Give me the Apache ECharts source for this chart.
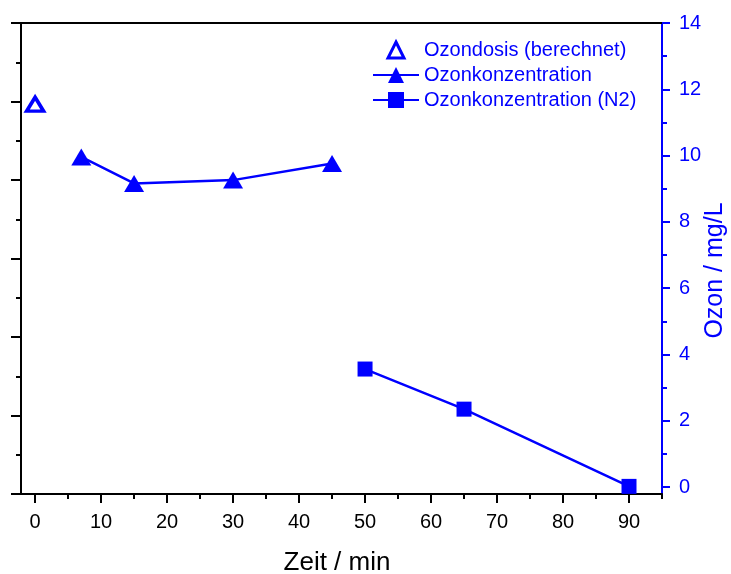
<!DOCTYPE html>
<html>
<head>
<meta charset="utf-8">
<script src="https://cdn.jsdelivr.net/npm/echarts@6/dist/echarts.min.js"></script>
<style>html,body{margin:0;padding:0;background:#fff}#c{width:731px;height:574px}</style>
</head>
<body>
<div id="c"></div>
<script>
const seriesNames = ['Ozondosis (berechnet)', 'Ozonkonzentration', 'Ozonkonzentration (N2)'];
const doseX = [0];
const doseY = [11.55];
const concX = [7, 15, 30, 45];
const concY = [9.96, 9.16, 9.26, 9.76];
const n2X = [50, 65, 90];
const n2Y = [3.56, 2.35, 0.02];
const xMajorTicks = [0, 10, 20, 30, 40, 50, 60, 70, 80, 90];
const xMinorTicks = [5, 15, 25, 35, 45, 55, 65, 75, 85, 95];
const yMajorTicks = [0, 2, 4, 6, 8, 10, 12, 14];
const yMinorTicks = [1, 3, 5, 7, 9, 11, 13];
const xTitle = 'Zeit / min';
const yTitle = 'Ozon / mg/L';

const BLUE = '#0000ff';
const FONT = 'Liberation Sans, Arial, sans-serif';
const pairs = (xs, ys) => xs.map((x, i) => [x, ys[i]]);

const chart = echarts.init(document.getElementById('c'), null, {renderer: 'canvas'});
const xRange = {min: -3.5, max: 95};
const yRange = {min: -0.21, max: 14};

chart.setOption({
  animation: false,
  backgroundColor: '#fff',
  textStyle: {fontFamily: FONT},
  grid: {left: 12, right: 69, top: 23, bottom: 80, containLabel: false, outerBoundsMode: 'none'},
  legend: {
    orient: 'vertical',
    left: 372,
    top: 40,
    padding: 0,
    itemWidth: 46,
    itemHeight: 20,
    itemGap: 5,
    textStyle: {color: BLUE, fontSize: 20, fontFamily: FONT},
    data: [
      {name: seriesNames[0], itemStyle: {color: '#fff', borderColor: BLUE, borderWidth: 3}},
      {name: seriesNames[1]},
      {name: seriesNames[2]}
    ]
  },
  xAxis: [
    {
      type: 'value', position: 'bottom', ...xRange,
      axisLine: {onZero: false, lineStyle: {color: '#000', width: 2}},
      axisTick: {show: true, customValues: xMajorTicks, length: 9, lineStyle: {color: '#000', width: 2}},
      axisLabel: {customValues: xMajorTicks, color: '#000', fontSize: 20, margin: 18, fontFamily: FONT},
      splitLine: {show: false},
      name: xTitle, nameLocation: 'middle', nameGap: 56, nameMoveOverlap: false,
      nameTextStyle: {color: '#000', fontSize: 26, fontFamily: FONT}
    },
    {
      type: 'value', position: 'bottom', ...xRange,
      axisLine: {show: false, onZero: false},
      axisTick: {show: true, customValues: xMinorTicks, length: 5, lineStyle: {color: '#000', width: 2}},
      axisLabel: {show: false},
      splitLine: {show: false}
    },
    {
      type: 'value', position: 'top', ...xRange,
      axisLine: {onZero: false, lineStyle: {color: '#000', width: 2}},
      axisTick: {show: false},
      axisLabel: {show: false},
      splitLine: {show: false}
    }
  ],
  yAxis: [
    {
      type: 'value', position: 'left', offset: -9, min: 0, max: 6, interval: 1,
      axisLine: {show: true, onZero: false, lineStyle: {color: '#000', width: 2}},
      axisTick: {show: true, length: 10, lineStyle: {color: '#000', width: 2}},
      minorTick: {show: true, splitNumber: 2, length: 5, lineStyle: {color: '#000', width: 2}},
      axisLabel: {show: false},
      splitLine: {show: false},
      minorSplitLine: {show: false}
    },
    {
      type: 'value', position: 'right', ...yRange,
      axisLine: {show: true, onZero: false, lineStyle: {color: BLUE, width: 2}},
      axisTick: {show: true, customValues: yMajorTicks, length: 8, lineStyle: {color: BLUE, width: 2}},
      axisLabel: {customValues: yMajorTicks, color: BLUE, fontSize: 20, margin: 17, fontFamily: FONT},
      splitLine: {show: false},
      name: yTitle, nameLocation: 'middle', nameGap: 41, nameMoveOverlap: false,
      nameTextStyle: {color: BLUE, fontSize: 25, fontFamily: FONT, padding: [0, 24, 0, 0]}
    },
    {
      type: 'value', position: 'right', ...yRange,
      axisLine: {show: false, onZero: false},
      axisTick: {show: true, customValues: yMinorTicks, length: 5, lineStyle: {color: BLUE, width: 2}},
      axisLabel: {show: false},
      splitLine: {show: false}
    }
  ],
  series: [
    {
      name: seriesNames[0], type: 'line', xAxisIndex: 0, yAxisIndex: 1,
      data: pairs(doseX, doseY),
      symbol: 'triangle', symbolSize: [17, 14],
      itemStyle: {color: '#fff', borderColor: BLUE, borderWidth: 3.5},
      lineStyle: {opacity: 0, width: 0}
    },
    {
      name: seriesNames[1], type: 'line', xAxisIndex: 0, yAxisIndex: 1,
      data: pairs(concX, concY),
      symbol: 'triangle', symbolSize: [20, 17],
      itemStyle: {color: BLUE},
      lineStyle: {color: BLUE, width: 2.5}
    },
    {
      name: seriesNames[2], type: 'line', xAxisIndex: 0, yAxisIndex: 1,
      data: pairs(n2X, n2Y),
      symbol: 'rect', symbolSize: 15,
      itemStyle: {color: BLUE},
      lineStyle: {color: BLUE, width: 2.5}
    }
  ]
});
</script>
</body>
</html>
